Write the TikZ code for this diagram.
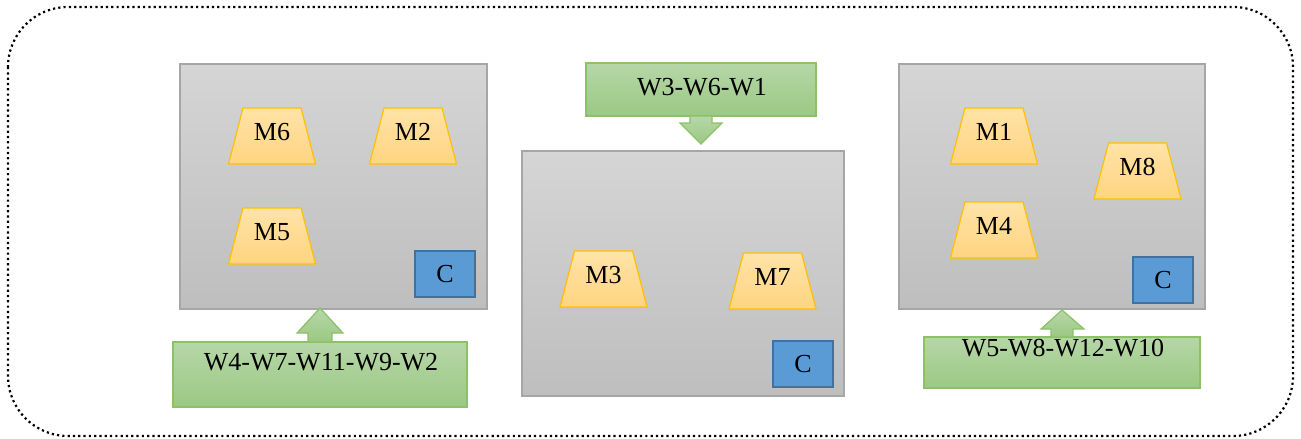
\documentclass[tikz,border=0pt]{standalone}
\usepackage{fontspec}
\setmainfont{Liberation Serif}
\definecolor{graytop}{HTML}{D5D5D5}
\definecolor{graybot}{HTML}{BEBEBE}
\definecolor{graybd}{HTML}{A6A6A6}
\definecolor{grtop}{HTML}{B6D7A8}
\definecolor{grbot}{HTML}{9BC883}
\definecolor{grbd}{HTML}{8CC168}
\definecolor{trtop}{HTML}{FFE3A8}
\definecolor{trbot}{HTML}{FFD480}
\definecolor{trbd}{HTML}{FFC000}
\definecolor{cfill}{HTML}{5B9BD5}
\definecolor{cbd}{HTML}{41719C}
\tikzset{
  lbl/.style={font=\fontsize{26}{31}\selectfont, text=black, inner sep=0pt},
  machine/.style={draw=graybd, line width=1.2, top color=graytop, bottom color=graybot},
  wbox/.style={draw=grbd, line width=1.2, top color=grtop, bottom color=grbot},
  warrow/.style={draw=grbd, line width=1.2, top color=grtop, bottom color=grbot},
  trap/.style={draw=trbd, line width=1.2, top color=trtop, bottom color=trbot},
  cbox/.style={draw=cbd, line width=1.5, fill=cfill, minimum width=60, minimum height=46,
    inner sep=0pt, font=\fontsize{26}{31}\selectfont},
  outer/.style={draw=black, line width=2.2, dash pattern=on 2.2 off 3.1, rounded corners=60}
}
\newcommand\trapz[4]{%
  \path[trap] (#2-29,#3) -- (#2+29,#3) -- (#2+43.5,#3+56) -- (#2-43.5,#3+56) -- cycle;
  \node[lbl] (#1) at (#2,#3+24) {#4};
}
\begin{document}
\begin{tikzpicture}[x=1pt,y=-1pt]
\useasboundingbox (0,0) rectangle (1301,439);
\draw[outer] (8,7) rectangle (1293,436);
% machine boxes
\path[machine] (180,64) rectangle (487,309);
\coordinate (P1) at (333.5,309);
\path[machine] (522,151) rectangle (844,396);
\coordinate (P2) at (701,151);
\path[machine] (899,64) rectangle (1205,309);
\coordinate (P3) at (1062,309);
% trapezoids
\trapz{M6}{272}{108}{M6}
\trapz{M2}{413}{108}{M2}
\trapz{M5}{272}{208}{M5}
\trapz{M3}{603.5}{251}{M3}
\trapz{M7}{772.5}{253}{M7}
\trapz{M1}{994}{108}{M1}
\trapz{M8}{1137.5}{143}{M8}
\trapz{M4}{994}{202}{M4}
% controllers
\node[cbox] (C1) at (445,274) {C};
\node[cbox] (C2) at (803,364) {C};
\node[cbox] (C3) at (1163,280) {C};
% green boxes
\path[wbox] (173,342) rectangle (467,407);
\node[lbl] (W1) at (321,362) {W4-W7-W11-W9-W2};
\path[wbox] (586,63) rectangle (816,116);
\node[lbl] (W2) at (702,87) {W3-W6-W1};
\path[wbox] (924,337) rectangle (1200,388);
\node[lbl] (W3) at (1063,348) {W5-W8-W12-W10};
% block arrows
\path[warrow] (308,342) -- (308,333) -- (297,333) -- (320,308) -- (343,333) -- (332,333) -- (332,342) -- cycle;
\path[warrow] (690,116) -- (690,123) -- (680,123) -- (701,144) -- (722,123) -- (712,123) -- (712,116) -- cycle;
\path[warrow] (1051,337) -- (1051,329) -- (1041,329) -- (1062,310) -- (1084,329) -- (1073,329) -- (1073,337) -- cycle;
\end{tikzpicture}
\end{document}
